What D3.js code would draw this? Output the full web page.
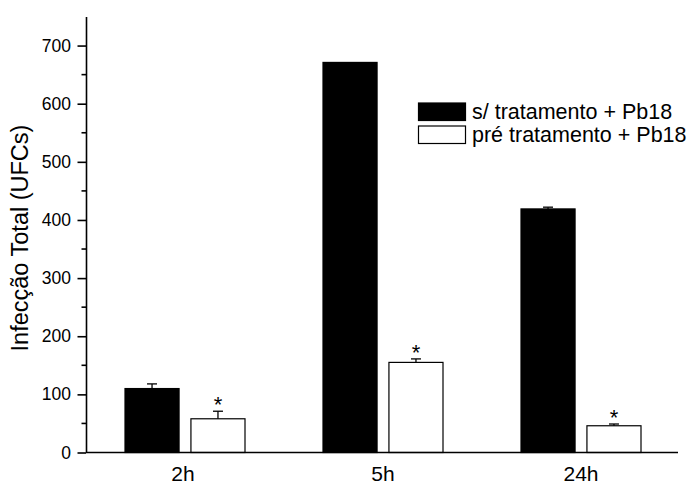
<!DOCTYPE html>
<html>
<head>
<meta charset="utf-8">
<script src="https://cdn.jsdelivr.net/npm/d3@7"></script>
<style>
  body { margin: 0; background: #fff; }
  svg { display: block; font-family: "Liberation Sans", Arial, sans-serif; }
</style>
</head>
<body>
<svg id="chart" width="694" height="483"></svg>
<script>
(function(){

	// data
	var categories = ["2h", "5h", "24h"];
	var seriesNames = [" s/ tratamento + Pb18", " pré tratamento + Pb18"];
	var semTratamento = [110, 671, 419];
	var semTratamentoErr = [8, 0, 3];
	var preTratamento = [58, 155, 46];
	var preTratamentoErr = [13, 6, 3];
	var signif = [true, true, true]; // asterisks over the pre-treatment bars
	var yTicks = [0, 100, 200, 300, 400, 500, 600, 700];
	var yMinorTicks = [50, 150, 250, 350, 450, 550, 650];
	var yLabel = "Infecção Total (UFCs)";

	var rows = [];
	for(var i = 0; i < categories.length; i++){
		rows.push({cat: categories[i], key: "s", value: semTratamento[i], err: semTratamentoErr[i], star: false});
		rows.push({cat: categories[i], key: "p", value: preTratamento[i], err: preTratamentoErr[i], star: signif[i]});
	}

	var svg = d3.select("#chart");
	var left = 86, right = 680, bottom = 452.5;

	var x = d3.scaleBand().domain(categories).range([left, right]);
	var x1 = d3.scaleBand().domain(["s", "p"]).range([-60, 60]).paddingInner(0.18);
	var y = d3.scaleLinear().domain([0, 750]).range([bottom, 16.5]);

	// bars
	svg.append("g")
		.selectAll("rect")
		.data(rows)
		.enter().append("rect")
			.attr("x", function(d){ return x(d.cat) + x.bandwidth() / 2 + x1(d.key); })
			.attr("y", function(d){ return y(d.value); })
			.attr("width", x1.bandwidth())
			.attr("height", function(d){ return y(0) - y(d.value); })
			.attr("fill", function(d){ return d.key === "s" ? "#000" : "#fff"; })
			.attr("stroke", "#000")
			.attr("stroke-width", 1.2);

	// error bars (upper half only)
	var eb = svg.append("g").attr("stroke", "#000").attr("stroke-width", 1.3);
	rows.forEach(function(d){
		var cx = x(d.cat) + x.bandwidth() / 2 + x1(d.key) + x1.bandwidth() / 2;
		if(d.err > 0){
			eb.append("line")
				.attr("x1", cx).attr("x2", cx)
				.attr("y1", y(d.value)).attr("y2", y(d.value + d.err));
			eb.append("line")
				.attr("x1", cx - 5).attr("x2", cx + 5)
				.attr("y1", y(d.value + d.err)).attr("y2", y(d.value + d.err));
		}
		if(d.star){
			svg.append("text")
				.attr("x", cx)
				.attr("y", y(d.value + d.err) + 1)
				.attr("text-anchor", "middle")
				.style("font-size", "22px")
				.text("*");
		}
	});

	// y axis
	var gy = svg.append("g")
		.attr("transform", "translate(" + left + ",0)")
		.call(d3.axisLeft(y).tickValues(yTicks).tickSize(8.5).tickPadding(6.5).tickSizeOuter(0));
	gy.select(".domain").attr("stroke-width", 1.6);
	gy.selectAll(".tick line").attr("stroke-width", 1.6);
	gy.selectAll(".tick text")
		.style("font-family", "'Liberation Sans', Arial, sans-serif")
		.style("font-size", "17.5px")
		.attr("fill", "#000");

	svg.append("g")
		.selectAll("line")
		.data(yMinorTicks)
		.enter().append("line")
			.attr("x1", left - 4.5).attr("x2", left)
			.attr("y1", function(d){ return y(d); })
			.attr("y2", function(d){ return y(d); })
			.attr("stroke", "#000")
			.attr("stroke-width", 1.6);

	// x axis: baseline and category labels only
	svg.append("line")
		.attr("x1", left).attr("x2", 678)
		.attr("y1", y(0)).attr("y2", y(0))
		.attr("stroke", "#000")
		.attr("stroke-width", 1.6);

	svg.append("g")
		.selectAll("text")
		.data(categories)
		.enter().append("text")
			.attr("x", function(d){ return x(d) + x.bandwidth() / 2 - (d === "2h" ? 2 : 0); })
			.attr("y", 480.5)
			.attr("text-anchor", "middle")
			.style("font-size", "21px")
			.text(function(d){ return d; });

	// y title
	svg.append("text")
		.attr("transform", "translate(27.5,238) rotate(-90)")
		.attr("text-anchor", "middle")
		.style("font-size", "23.5px")
		.text(yLabel);

	// legend
	var legend = svg.append("g").attr("class", "legend");
	var legendY = [103, 126];
	seriesNames.forEach(function(name, i){
		legend.append("rect")
			.attr("x", 418.5).attr("y", legendY[i])
			.attr("width", 47).attr("height", 17.5)
			.attr("fill", i === 0 ? "#000" : "#fff")
			.attr("stroke", "#000")
			.attr("stroke-width", 1.2);
		legend.append("text")
			.attr("x", 466)
			.attr("y", legendY[i] + 15.5)
			.style("font-size", "21.5px")
			.style("white-space", "pre")
			.text(name);
	});

})();
</script>
</body>
</html>
